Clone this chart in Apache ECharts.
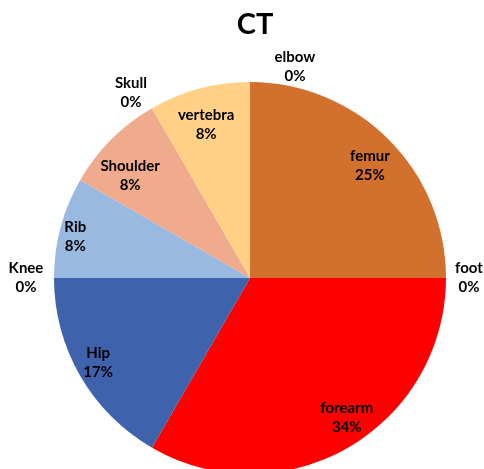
<!DOCTYPE html>
<html>
<head>
<meta charset="utf-8">
<script src="https://cdn.jsdelivr.net/npm/echarts@6/dist/echarts.min.js"></script>
<style>
  html, body { margin: 0; padding: 0; background: #fff; }
  #ct-pie { width: 484px; height: 469px; }
</style>
</head>
<body>
<div id="ct-pie"></div>
<script>
// counts per bone, and the % shown on each label in the picture
const bones = ["elbow", "femur", "foot", "forearm", "Hip", "Knee", "Rib", "Shoulder", "Skull", "vertebra"];
const counts = [0, 3, 0, 4, 2, 0, 1, 1, 0, 1];
const percentLabels = [0, 25, 0, 34, 17, 0, 8, 8, 0, 8];
const sliceColors = ["#D2702E", "#D2702E", "#FF0000", "#FF0000", "#3E63AC", "#3E63AC", "#99B9E1", "#F0AA8C", "#FFD086", "#FFD086"];

const center = [250, 278];
const pieRadius = 196;
const font = "Lato";

// small label nudges so the text sits where the original put it
const labelNudge = {
  elbow: [45, 13],
  femur: [0, 8],
  foot: [-5, 0],
  forearm: [12, -7],
  Hip: [-5, 0],
  Rib: [-11, 3],
  Shoulder: [0, 18],
  Skull: [-7, 9],
  vertebra: [0, 10],
};

const chartContainer = document.getElementById("ct-pie");
const chart = echarts.init(chartContainer, null, { renderer: "canvas" });

const labelStyle = {
  color: "#000",
  fontFamily: font,
  fontWeight: "bold",
  fontSize: 15,
  lineHeight: 19,
  formatter: (p) => p.name + "\n" + percentLabels[p.dataIndex] + "%",
};

const nudge = (params) => {
  const n = labelNudge[bones[params.dataIndex]];
  return n ? { dx: n[0], dy: n[1] } : {};
};

const sliceData = bones.map((name, i) => ({
  name: name,
  value: counts[i],
  itemStyle: { color: sliceColors[i] },
}));

// labels for the non-empty slices, on a ring near the rim
const innerLabelData = bones.map((name, i) => ({
  name: name,
  value: counts[i],
  label: { show: counts[i] > 0 },
}));

// 0% labels sit just outside the pie
const zeroLabelData = bones.map((name, i) => ({
  name: name,
  value: counts[i],
  label: { show: counts[i] === 0 },
}));

const base = {
  type: "pie",
  center: center,
  startAngle: 90,
  clockwise: true,
  avoidLabelOverlap: false,
  silent: true,
  animation: false,
};

const option = {
  backgroundColor: "#fff",
  title: {
    text: "CT",
    left: 250,
    textAlign: "center",
    top: 5,
    textStyle: {
      fontFamily: font,
      fontWeight: "bold",
      fontSize: 29,
      color: "#000",
    },
  },
  series: [
    {
      ...base,
      radius: [0, pieRadius],
      label: { show: false },
      labelLine: { show: false },
      data: sliceData,
    },
    {
      ...base,
      radius: [137, pieRadius],
      itemStyle: { color: "transparent" },
      label: { position: "inside", ...labelStyle },
      labelLine: { show: false },
      labelLayout: nudge,
      data: innerLabelData,
    },
    {
      ...base,
      radius: [200, 242],
      itemStyle: { color: "transparent" },
      label: { position: "inside", ...labelStyle },
      labelLine: { show: false },
      labelLayout: nudge,
      data: zeroLabelData,
    },
  ],
};
chart.setOption(option);
</script>
</body>
</html>
